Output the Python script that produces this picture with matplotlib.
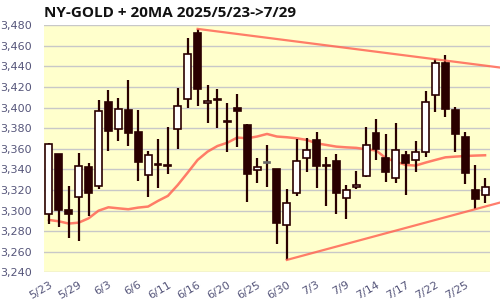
import matplotlib
matplotlib.use("Agg")
import matplotlib.pyplot as plt
from matplotlib.patches import Rectangle
import numpy as np

dates = ["5/23","5/27","5/28","5/29","5/30","6/2","6/3","6/4","6/5","6/6",
         "6/9","6/10","6/11","6/12","6/13","6/16","6/17","6/18","6/20","6/23",
         "6/24","6/25","6/26","6/27","6/30","7/1","7/2","7/3","7/7","7/8",
         "7/9","7/10","7/11","7/14","7/15","7/16","7/17","7/18","7/21","7/22",
         "7/23","7/24","7/25","7/28","7/29"]

opens = [3296.5,3354.8,3300.7,3313.0,3342.5,3324.0,3405.6,3379.0,3397.8,3376.1,
         3334.4,3345.6,3343.9,3379.0,3408.2,3472.2,3404.3,3408.8,3386.6,3399.7,
         3383.2,3339.2,3346.7,3340.5,3286.1,3316.9,3351.2,3368.3,3344.3,3348.3,
         3312.0,3322.7,3334.0,3375.1,3350.9,3331.5,3353.8,3348.9,3356.7,3412.0,
         3443.1,3397.8,3371.3,3320.1,3315.0]
highs = [3365.4,3355.0,3324.0,3355.7,3346.0,3407.5,3417.2,3409.0,3426.9,3397.8,
         3358.0,3370.0,3381.3,3419.2,3467.7,3476.5,3422.1,3418.2,3404.6,3413.3,
         3383.9,3351.2,3363.8,3340.5,3320.8,3369.6,3370.6,3376.1,3352.2,3354.8,
         3325.0,3338.6,3381.3,3389.1,3374.2,3384.9,3357.7,3367.7,3416.2,3447.0,
         3451.2,3400.4,3376.1,3344.4,3331.5]
lows = [3286.8,3283.9,3273.9,3270.3,3295.2,3320.8,3358.3,3368.0,3362.8,3328.9,
        3313.7,3322.4,3335.7,3359.6,3400.1,3402.0,3385.5,3380.6,3357.3,3362.2,
        3308.8,3326.6,3323.4,3267.4,3252.2,3314.6,3337.9,3322.4,3304.9,3296.5,
        3291.7,3320.8,3333.1,3349.6,3328.2,3327.2,3315.0,3337.9,3351.8,3395.5,
        3391.3,3356.7,3326.3,3301.4,3307.2]
closes = [3364.5,3300.7,3296.5,3343.4,3316.9,3396.5,3377.7,3398.4,3375.8,3347.6,
          3353.8,3344.8,3343.1,3401.4,3451.8,3417.9,3406.5,3407.6,3385.8,3396.5,
          3335.3,3342.5,3346.7,3288.4,3307.2,3348.6,3358.6,3343.8,3343.5,3317.5,
          3319.8,3324.7,3363.5,3360.3,3337.9,3358.6,3346.0,3357.3,3405.2,3443.1,
          3398.4,3374.2,3336.3,3311.1,3322.7]
ma20 = [3291.0,3289.7,3287.5,3288.4,3292.6,3300.0,3303.3,3302.3,3301.4,3303.0,
        3304.0,3309.5,3314.4,3325.0,3337.0,3349.3,3357.3,3362.8,3366.0,3371.0,
        3370.3,3372.0,3374.5,3372.0,3371.3,3370.3,3368.7,3365.4,3363.8,3362.2,
        3361.5,3361.0,3359.6,3358.5,3351.0,3347.6,3344.4,3343.8,3346.7,3349.3,
        3351.8,3352.5,3353.1,3353.5,3353.8]

tick_idx = list(range(0, 45, 3))
tick_labels = [dates[i] for i in tick_idx]
yticks = list(range(3240, 3481, 20))

# trend lines defined by two anchor candles
upper_pts = (15, 39)
lower_pts = (24, 43)

DARK = "#2a0000"
fig = plt.figure(figsize=(5, 3), dpi=100)
ax = fig.add_axes([0.088, 0.0917, 0.892, 0.824])
ax.set_facecolor("#ffffcc")
ax.set_xlim(-0.5, 44.5)
ax.set_ylim(3240, 3480)
ax.set_yticks(yticks)
ax.set_yticklabels([f"{v:,}" for v in yticks])
ax.set_xticks(tick_idx)
ax.set_xticklabels(tick_labels, rotation=30, ha="right", rotation_mode="anchor")
ax.tick_params(length=0, colors="#55557a", labelsize=8)
ax.tick_params(axis="y", pad=9)
ax.tick_params(axis="x", pad=5)
for s in ax.spines.values():
    s.set_visible(False)
ax.grid(axis="y", color="#c8c8c8", lw=1.0)
ax.set_axisbelow(True)

x = np.arange(len(opens))
ax.plot(x, ma20, color="#ff6655", lw=1.8, alpha=0.85, zorder=2)

w = 0.7
for i in range(len(opens)):
    o, h, l, c = opens[i], highs[i], lows[i], closes[i]
    ax.plot([i, i], [l, h], color=DARK, lw=1.6, zorder=3, solid_capstyle="butt")
    lo, hi = min(o, c), max(o, c)
    if c > o:
        fc = "white"; ec = DARK
    elif c < o:
        fc = DARK; ec = DARK
    else:
        fc = "#888888"; ec = "#666666"
    hgt = max(hi - lo, 0.6)
    ax.add_patch(Rectangle((i - w / 2, lo), w, hgt, facecolor=fc, edgecolor=ec,
                           lw=1.2, zorder=4))

def trend(p):
    a, b = p
    if p is upper_pts:
        ya, yb = highs[a], highs[b]
    else:
        ya, yb = lows[a], lows[b]
    slope = (yb - ya) / (b - a)
    xe = 45.5
    return [a, xe], [ya, ya + slope * (xe - a)]

for p in (upper_pts, lower_pts):
    xs, ys = trend(p)
    ax.plot(xs, ys, color="#ff6655", lw=1.6, alpha=0.85, zorder=5, clip_on=False)

fig.text(0.088, 0.958, "NY-GOLD + 20MA 2025/5/23->7/29", fontsize=11,
         fontweight="bold", family="Open Sans", ha="left", va="center", color="#111111")

fig.savefig("out.png", dpi=100)
